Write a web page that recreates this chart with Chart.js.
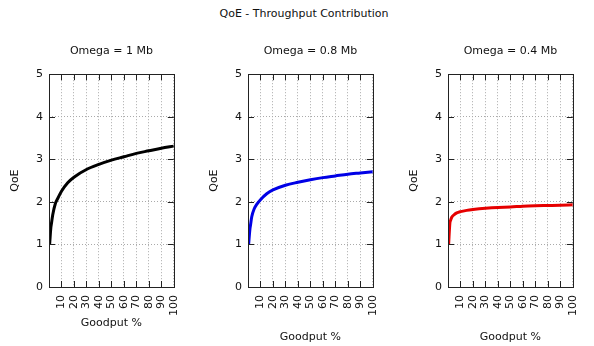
<!DOCTYPE html>
<html>
<head>
<meta charset="utf-8">
<script src="https://cdn.jsdelivr.net/npm/chart.js@4/dist/chart.umd.min.js"></script>
<style>
  body { margin: 0; background: #fff; width: 594px; height: 346px; position: relative; overflow: hidden; }
  #title { position: absolute; top: 7px; left: 304px; transform: translateX(-50%); font: 11px "DejaVu Sans", sans-serif; color: #111; white-space: nowrap; }
  .panel { position: absolute; top: 0; width: 195px; height: 346px; }
</style>
</head>
<body>
<div id="title">QoE - Throughput Contribution</div>
<div class="panel" style="left:0px"><canvas id="chart1"></canvas></div>
<div class="panel" style="left:199px"><canvas id="chart2"></canvas></div>
<div class="panel" style="left:399px"><canvas id="chart3"></canvas></div>
<script>
const goodput = [0.5, 1.5, 2, 3, 5, 7, 10, 15, 20, 30, 40, 50, 60, 70, 80, 90, 100];
const qoe1 = [1.0, 1.4, 1.5, 1.7, 1.95, 2.08, 2.25, 2.45, 2.58, 2.76, 2.88, 2.98, 3.06, 3.14, 3.2, 3.26, 3.31];
const qoe08 = [1.0, 1.35, 1.45, 1.65, 1.84, 1.94, 2.05, 2.19, 2.28, 2.39, 2.46, 2.52, 2.57, 2.61, 2.65, 2.68, 2.71];
const qoe04 = [1.0, 1.5, 1.56, 1.64, 1.7, 1.74, 1.77, 1.8, 1.82, 1.85, 1.87, 1.88, 1.9, 1.91, 1.915, 1.92, 1.93];
const panelTitles = ['Omega = 1 Mb', 'Omega = 0.8 Mb', 'Omega = 0.4 Mb'];

const font = { family: '"DejaVu Sans", sans-serif', size: 11, weight: 'normal' };
const textColor = '#111';

// gnuplot style frame with ticks pointing inwards
const innerTicks = {
  id: 'innerTicks',
  afterDraw(chart) {
    const { ctx, chartArea: a, scales } = chart;
    const len = 6;
    ctx.save();
    ctx.strokeStyle = '#222';
    ctx.lineWidth = 1;
    ctx.beginPath();
    scales.x.ticks.forEach(t => {
      if (t.value <= 0 || t.value >= 100) return;
      const px = Math.round(scales.x.getPixelForValue(t.value)) + 0.5;
      ctx.moveTo(px, a.bottom); ctx.lineTo(px, a.bottom - len);
      ctx.moveTo(px, a.top); ctx.lineTo(px, a.top + len);
    });
    scales.y.ticks.forEach(t => {
      if (t.value <= 0 || t.value >= 5) return;
      const py = Math.round(scales.y.getPixelForValue(t.value)) + 0.5;
      ctx.moveTo(a.left, py); ctx.lineTo(a.left + len, py);
      ctx.moveTo(a.right, py); ctx.lineTo(a.right - len, py);
    });
    ctx.stroke();
    ctx.strokeRect(Math.round(a.left) + 0.5, Math.round(a.top) + 0.5,
      Math.round(a.right - a.left), Math.round(a.bottom - a.top));
    ctx.restore();
  }
};

function renderPanel(id, values, color, title, xTitlePad) {
  new Chart(document.getElementById(id), {
    type: 'line',
    data: {
      datasets: [{
        data: goodput.map((g, i) => ({ x: g, y: values[i] })),
        borderColor: color,
        borderWidth: 3,
        pointRadius: 0,
        cubicInterpolationMode: 'monotone',
        fill: false
      }]
    },
    options: {
      responsive: true,
      maintainAspectRatio: false,
      animation: false,
      layout: { padding: { top: 38, right: 10, bottom: 0, left: 0 } },
      plugins: {
        legend: { display: false },
        tooltip: { enabled: false },
        title: {
          display: true,
          text: title,
          fullSize: false,
          color: textColor,
          font: font,
          padding: { top: 7, bottom: 16 }
        }
      },
      scales: {
        x: {
          type: 'linear',
          min: 0,
          max: 100,
          afterFit(scale) { scale.height = 59; },
          ticks: {
            stepSize: 10,
            autoSkip: false,
            minRotation: 90,
            maxRotation: 90,
            padding: 8,
            color: textColor,
            font: font,
            callback: v => (v === 0 ? '' : v)
          },
          grid: { color: '#aaa', drawTicks: false },
          border: { display: false, dash: [1, 2] },
          title: { display: true, text: 'Goodput %', color: textColor, font: font, padding: { top: 0, bottom: xTitlePad } }
        },
        y: {
          min: 0,
          max: 5,
          afterFit(scale) { scale.width = 49; },
          ticks: { stepSize: 1, padding: 6, color: textColor, font: font },
          grid: { color: '#aaa', drawTicks: false },
          border: { display: false, dash: [1, 2] },
          title: { display: true, text: 'QoE', color: textColor, font: font, padding: { top: 9, bottom: 0 } }
        }
      }
    },
    plugins: [innerTicks]
  });
}

renderPanel('chart1', qoe1, '#000000', panelTitles[0], 16);
renderPanel('chart2', qoe08, '#0000e6', panelTitles[1], 2);
renderPanel('chart3', qoe04, '#e60000', panelTitles[2], 2);
</script>
</body>
</html>
